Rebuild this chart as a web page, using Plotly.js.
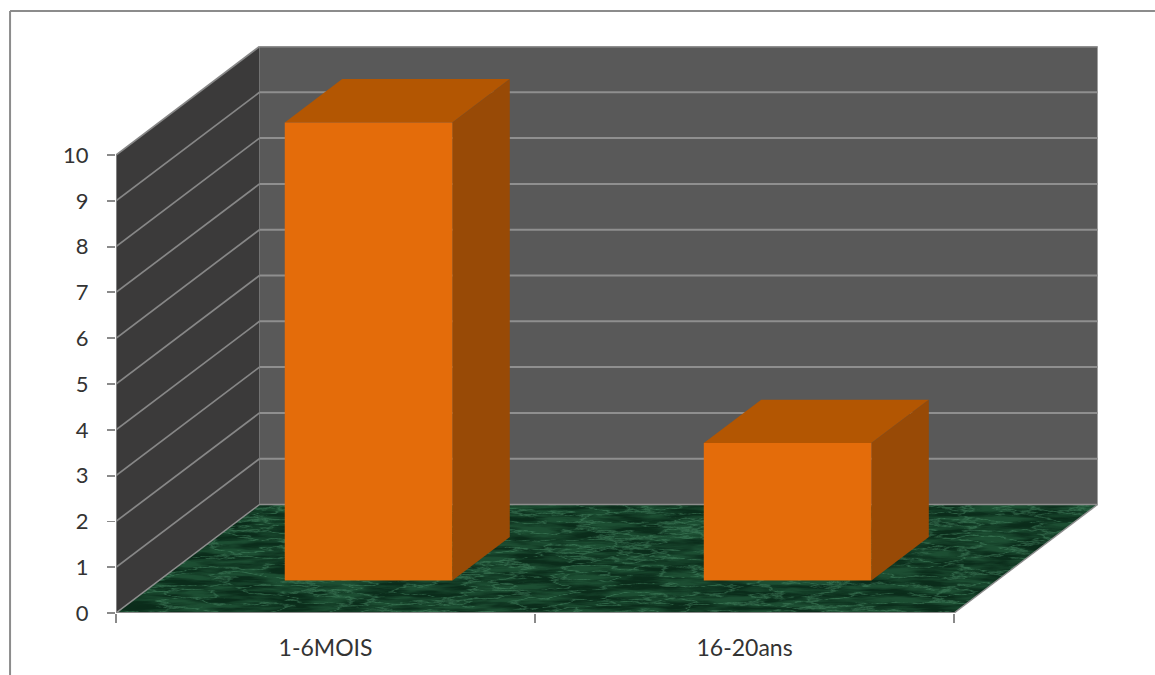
<!DOCTYPE html>
<html><head><meta charset="utf-8">
<script src="https://cdn.plot.ly/plotly-3.0.1.min.js"></script>
<style>html,body{margin:0;padding:0;background:#fff;overflow:hidden}#chart{width:1155px;height:675px}</style>
</head><body><div id="chart"></div>
<script>
// Data
const categories = ['1-6MOIS', '16-20ans'];
const values = [10, 3];
const yTicks = [0,1,2,3,4,5,6,7,8,9,10];

// Oblique projection constants (in axis units)
const depthX = 0.3425, depthY = 2.369;
const barZ0 = 0.3, barZ1 = 0.7, barInset = 0.3;
const xMax = 2.3435, yMax = 12.38, yTop = 10;
const nCat = categories.length;

function P(x, y, z){ return [x + z*depthX, y + z*depthY]; }
function poly(points, color, extra){
  const pts = points.concat([points[0]]);
  return Object.assign({type:'scatter', mode:'lines', x:pts.map(p=>p[0]), y:pts.map(p=>p[1]),
    fill:'toself', fillcolor:color, line:{width:0,color:color}, hoverinfo:'skip', showlegend:false, cliponaxis:false}, extra||{});
}
function lines(segs, color, width, extra){
  const x=[],y=[];
  segs.forEach(s=>{ s.forEach(p=>{x.push(p[0]);y.push(p[1]);}); x.push(null); y.push(null); });
  return Object.assign({type:'scatter', mode:'lines', x, y, line:{color, width}, hoverinfo:'skip', showlegend:false, cliponaxis:false, connectgaps:false}, extra||{});
}

const traces = [];
// Walls
traces.push(poly([P(0,0,1),P(nCat,0,1),P(nCat,yTop,1),P(0,yTop,1)], '#595959'));
traces.push(poly([P(0,0,0),P(0,0,1),P(0,yTop,1),P(0,yTop,0)], '#3b3a3a'));
// Gridlines on walls
traces.push(lines(yTicks.slice(1).map(v=>[P(0,v,1),P(nCat,v,1)]), '#8f8f8f', 2));
traces.push(lines(yTicks.slice(1).map(v=>[P(0,v,0),P(0,v,1)]), '#878787', 1.7));
// Floor edges (floor texture is a layout image)
traces.push(lines([[P(0,0,0),P(0,0,1)],[P(0,0,1),P(nCat,0,1)],[P(nCat,0,1),P(nCat,0,0)]], '#8e8e8e', 1.5));
// Bars
values.forEach((v,i)=>{
  const a=i+barInset, b=i+1-barInset;
  traces.push(poly([P(a,v,barZ0),P(b,v,barZ0),P(b,v,barZ1),P(a,v,barZ1)], '#b35602'));
  traces.push(poly([P(b,0,barZ0),P(b,0,barZ1),P(b,v,barZ1),P(b,v,barZ0)], '#984a06'));
  traces.push(poly([P(a,0,barZ0),P(b,0,barZ0),P(b,v,barZ0),P(a,v,barZ0)], '#e46c0a'));
});
// Axis lines
traces.push(lines([[[0,0],[nCat,0]],[[0,0],[0,yTop]]], '#8a8a8a', 1.8));
// Category tick marks live on an overlaid axis so labels sit between them
traces.push({type:'scatter', mode:'lines', x:[0,nCat], y:[0,0], xaxis:'x2', line:{color:'#8a8a8a',width:1.8}, hoverinfo:'skip', showlegend:false, cliponaxis:false});

// Marble floor texture, clipped to the floor parallelogram
const W=983, H=109, fx=x=>x/(nCat+depthX)*W;
const floorPts=[P(0,0,0),P(nCat,0,0),P(nCat,0,1),P(0,0,1)].map(p=>fx(p[0]).toFixed(1)+','+(H-p[1]/depthY*H).toFixed(1)).join(' ');
const svg=`<svg xmlns="http://www.w3.org/2000/svg" width="${W}" height="${H}" viewBox="0 0 ${W} ${H}">
<defs>
<filter id="v" x="0" y="0" width="100%" height="100%" color-interpolation-filters="sRGB"><feTurbulence type="fractalNoise" baseFrequency="0.02 0.11" numOctaves="5" seed="11"/>
<feColorMatrix values="0 0 0 0 0.33  0 0 0 0 0.60  0 0 0 0 0.45  1 0 0 0 0"/>
<feComponentTransfer><feFuncA type="table" tableValues="0 0 0 0 0 0 0 0 0.02 0.42 0.02 0 0 0 0 0 0 0 0"/></feComponentTransfer><feGaussianBlur stdDeviation="0.6"/></filter>
<filter id="w" x="0" y="0" width="100%" height="100%" color-interpolation-filters="sRGB"><feTurbulence type="fractalNoise" baseFrequency="0.02 0.16" numOctaves="4" seed="4"/>
<feColorMatrix values="0 0 0 0 0.04  0 0 0 0 0.17  0 0 0 0 0.10  0 1 0 0 0"/>
<feComponentTransfer><feFuncA type="table" tableValues="0 0 0.05 0.5 0.95 1 1"/></feComponentTransfer></filter>
<clipPath id="c"><polygon points="${floorPts}"/></clipPath></defs>
<g clip-path="url(#c)"><rect width="${W}" height="${H}" fill="#1d4f33"/><rect width="${W}" height="${H}" filter="url(#w)"/><rect width="${W}" height="${H}" filter="url(#v)"/></g></svg>`;

const frameX = px => (px-115.5)/982.5;
const frameY = py => (613-py)/567;
const layout = {
  width:1155, height:675, paper_bgcolor:'#fff', plot_bgcolor:'rgba(0,0,0,0)',
  margin:{l:115.5, r:57, t:46, b:62}, showlegend:false, dragmode:false,
  font:{family:'Lato, "Open Sans", sans-serif', size:22, color:'#333'},
  xaxis:{range:[0,xMax], tickvals:categories.map((c,i)=>i+0.5), ticktext:categories, ticks:'', showgrid:false, zeroline:false, showline:false,
         tickfont:{size:23,color:'#333'}, ticklabelstandoff:19, fixedrange:true},
  xaxis2:{range:[0,xMax], overlaying:'x', side:'bottom', anchor:'y', tickvals:categories.map((c,i)=>i).concat([nCat]), ticktext:['','',''],
         ticks:'outside', ticklen:9, tickwidth:1.8, tickcolor:'#8a8a8a', showgrid:false, zeroline:false, showline:false, fixedrange:true},
  yaxis:{range:[0,yMax], tickvals:yTicks, ticks:'outside', ticklen:8, tickwidth:1.8, tickcolor:'#8a8a8a', showgrid:false, zeroline:false, showline:false,
         tickfont:{size:22,color:'#333'}, ticklabelstandoff:14, fixedrange:true},
  images:[{source:'data:image/svg+xml;base64,'+btoa(svg), xref:'x', yref:'y', x:0, y:depthY, sizex:nCat+depthX, sizey:depthY,
           sizing:'stretch', xanchor:'left', yanchor:'top', layer:'below'}],
  shapes:[
    {type:'line', xref:'paper', yref:'paper', x0:frameX(9.5), x1:frameX(1155), y0:frameY(11), y1:frameY(11), line:{color:'#8c8c8c',width:2}},
    {type:'line', xref:'paper', yref:'paper', x0:frameX(9.5), x1:frameX(9.5), y0:frameY(11), y1:frameY(675), line:{color:'#8c8c8c',width:2}}
  ]
};
Plotly.newPlot('chart', traces, layout, {displayModeBar:false, staticPlot:true});
</script></body></html>
